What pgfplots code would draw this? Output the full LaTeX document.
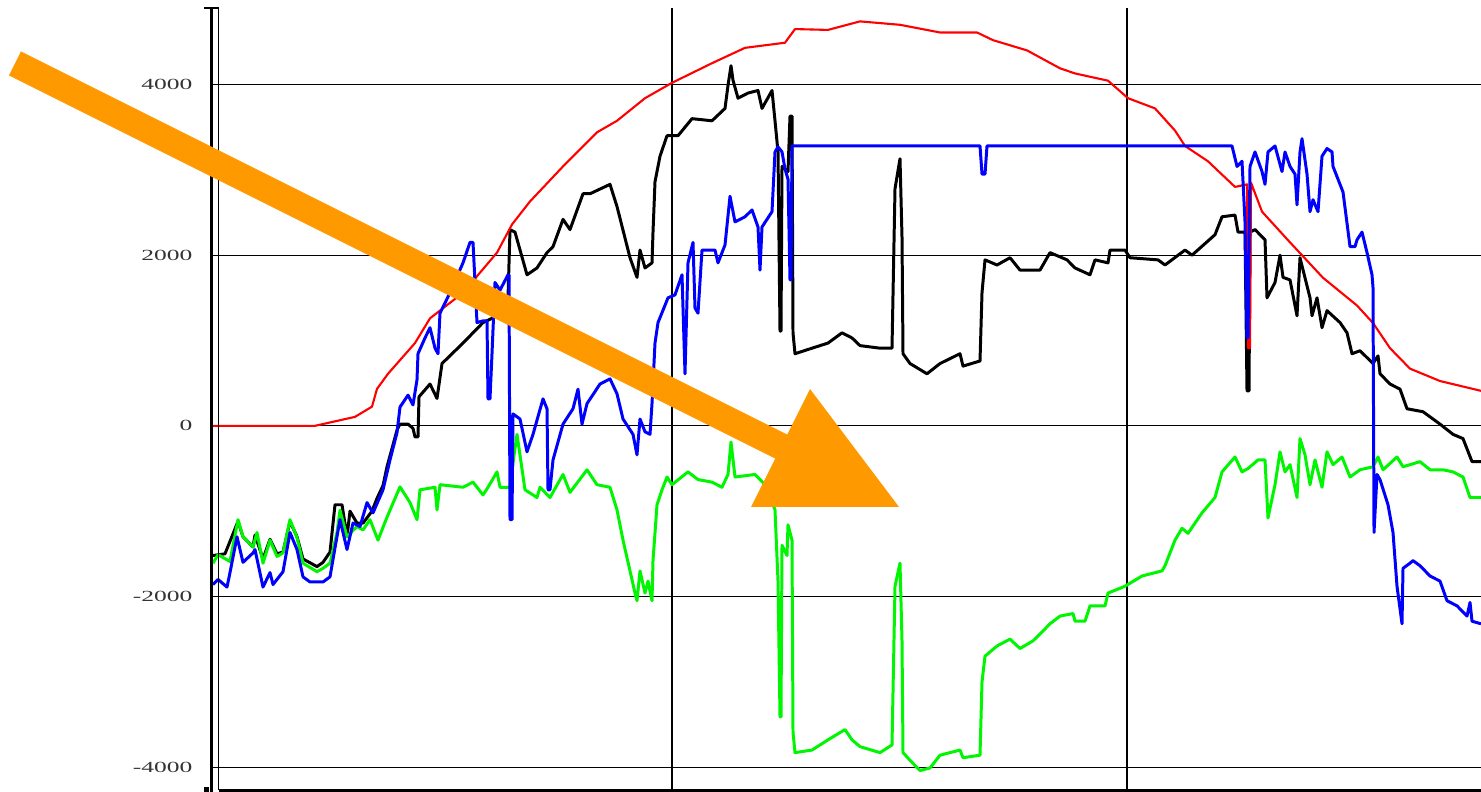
\documentclass[border=0pt]{standalone}
\usepackage{fontspec}
\setmainfont{Liberation Serif}
\usepackage{graphicx}
\usepackage{pgfplots}
\pgfplotsset{compat=1.18}
\definecolor{arroworange}{RGB}{255,153,0}
\definecolor{trgreen}{RGB}{0,245,0}
\newcommand{\tl}[1]{\scalebox{1.65}[1]{#1}}

\begin{document}
\begin{tikzpicture}
\useasboundingbox (0,0) rectangle (148.1mm,79.2mm);
\begin{axis}[
    scale only axis,
    width=127.1mm, height=78.2mm,
    at={(21mm,0.2mm)}, anchor=south west,
    xmin=210, xmax=1481,
    ymin=-4268, ymax=4897,
    axis line style={draw=none},
    major tick length=0pt,
    xtick={672,1127}, xticklabels={},
    ytick={-4000,-2000,0,2000,4000},
    yticklabels={\tl{-4000},\tl{-2000},\tl{0},\tl{2000},\tl{4000}},
    yticklabel style={font=\fontsize{4.4}{5}\selectfont, text=black!80, inner sep=0pt, xshift=-1.7mm},
    grid=major,
    major grid style={black, line width=0.35pt},
    every axis plot/.append style={mark=none, line join=round},
]
% black
\addplot[black, line width=0.85pt] coordinates {
(213,-1520) (225,-1500) (238,-1120) (243,-1300) (253,-1420) (255,-1280) (263,-1560) (270,-1330)
(277,-1500) (283,-1480) (290,-1120) (297,-1300) (303,-1560) (317,-1650) (323,-1600) (330,-1480)
(335,-925) (342,-925) (347,-1300) (350,-1000) (357,-1140) (363,-1140) (372,-1000) (377,-850)
(383,-700) (387,-480) (397,-50) (400,20) (408,20) (413,-30) (415,-130) (418,-130) (419,340)
(430,490) (437,320) (442,730) (463,970) (483,1210) (492,1260) (508,1500) (510,2300) (515,2270)
(527,1770) (537,1850) (547,2030) (553,2100) (563,2420) (570,2300) (583,2720) (590,2720)
(610,2830) (617,2570) (630,1970) (637,1740) (640,2060) (645,1850) (652,1910) (653,2270)
(655,2860) (660,3160) (667,3400) (678,3400) (692,3600) (712,3575) (725,3720) (728,3990)
(731,4220) (733,4050) (738,3840) (748,3900) (758,3930) (762,3720) (772,3930) (775,3575)
(778,3210) (780,1110) (781,1110) (782,3040) (788,2980) (790,3630) (792,3630) (793,1090)
(795,845) (812,910) (828,970) (842,1090) (852,1030) (860,940) (880,910) (892,910) (895,2780)
(900,3130) (902,2210) (903,845) (910,730) (927,610) (940,730) (960,845) (963,700) (980,760)
(982,1560) (985,1945) (997,1885) (1010,1970) (1020,1825) (1040,1825) (1050,2030) (1067,1945)
(1075,1850) (1090,1770) (1095,1945) (1108,1910) (1110,2060) (1125,2060) (1130,1970)
(1158,1945) (1165,1885) (1185,2060) (1192,2000) (1215,2240) (1222,2450) (1235,2470)
(1238,2270) (1245,2270) (1247,410) (1249,410) (1250,2270) (1255,2300) (1265,2180) (1267,1500)
(1275,1680) (1280,2000) (1283,1740) (1290,1710) (1297,1290) (1300,1970) (1310,1500)
(1312,1290) (1317,1500) (1322,1150) (1327,1350) (1340,1210) (1347,1090) (1352,845) (1360,880)
(1373,730) (1378,820) (1380,610) (1390,490) (1400,430) (1407,200) (1423,165) (1440,20)
(1453,-100) (1463,-150) (1472,-420) (1481,-420)
};
% red
\addplot[red, line width=0.6pt] coordinates {
(213,0) (315,0) (355,105) (372,225) (377,433) (388,610) (415,970) (430,1260) (463,1560)
(497,2030) (512,2360) (530,2630) (563,3040) (597,3440) (617,3575) (645,3840) (672,4020)
(712,4250) (745,4430) (785,4490) (795,4650) (828,4640) (860,4740) (900,4700) (940,4610)
(977,4610) (993,4520) (1027,4400) (1060,4190) (1075,4130) (1108,4045) (1128,3840)
(1155,3720) (1175,3460) (1185,3280) (1208,3100) (1235,2800) (1247,2830) (1248,910)
(1250,910) (1251,2850) (1262,2510) (1290,2150) (1323,1735) (1357,1410) (1373,1205)
(1390,910) (1410,670) (1440,525) (1481,410)
};
% green
\addplot[trgreen, line width=0.85pt] coordinates {
(213,-1610) (218,-1510) (230,-1590) (238,-1100) (243,-1300) (253,-1420) (257,-1250)
(263,-1610) (270,-1340) (277,-1530) (283,-1490) (290,-1100) (297,-1310) (303,-1610)
(317,-1710) (323,-1670) (330,-1610) (337,-1250) (340,-990) (347,-1300) (357,-1180)
(363,-1220) (370,-1100) (378,-1340) (387,-1070) (400,-715) (410,-900) (417,-1100) (420,-750)
(435,-720) (437,-985) (440,-690) (463,-720) (473,-660) (483,-810) (488,-720) (497,-540)
(500,-720) (510,-720) (512,-515) (517,-100) (525,-750) (537,-840) (540,-720) (550,-840)
(563,-570) (570,-780) (587,-515) (597,-690) (610,-720) (617,-985) (623,-1340) (630,-1700)
(635,-1960) (637,-2050) (640,-1700) (645,-1960) (648,-1820) (652,-2050) (653,-1580)
(657,-925) (662,-750) (667,-600) (672,-690) (688,-540) (698,-630) (712,-660) (722,-720)
(728,-570) (731,-190) (735,-600) (755,-570) (765,-690) (775,-985) (778,-1820) (780,-3410)
(781,-3410) (782,-1400) (787,-1520) (788,-1160) (792,-1340) (793,-3590) (795,-3830)
(812,-3800) (828,-3680) (845,-3560) (852,-3680) (860,-3760) (880,-3830) (892,-3740)
(895,-1880) (900,-1610) (902,-2520) (903,-3830) (910,-3920) (920,-4040) (930,-4010)
(940,-3860) (960,-3800) (963,-3890) (980,-3860) (982,-3000) (985,-2700) (997,-2580)
(1010,-2500) (1020,-2610) (1033,-2520) (1040,-2440) (1050,-2320) (1060,-2230) (1073,-2200)
(1075,-2290) (1085,-2290) (1090,-2110) (1105,-2110) (1108,-1960) (1125,-1880) (1142,-1760)
(1162,-1700) (1165,-1640) (1175,-1340) (1182,-1200) (1188,-1260) (1202,-1020) (1215,-840)
(1222,-540) (1235,-365) (1242,-540) (1248,-500) (1258,-400) (1265,-400) (1268,-1080)
(1275,-690) (1280,-305) (1285,-540) (1290,-455) (1297,-840) (1300,-150) (1305,-340)
(1310,-690) (1315,-400) (1322,-720) (1327,-305) (1333,-455) (1342,-365) (1350,-600)
(1360,-515) (1373,-480) (1378,-365) (1383,-515) (1397,-365) (1403,-480) (1420,-420)
(1430,-515) (1443,-515) (1453,-540) (1463,-600) (1470,-840) (1481,-840)
};
% blue
\addplot[blue, line width=0.85pt] coordinates {
(213,-1860) (218,-1800) (227,-1890) (230,-1720) (237,-1300) (243,-1600) (253,-1490)
(255,-1450) (263,-1890) (270,-1720) (273,-1860) (283,-1710) (290,-1250) (297,-1450)
(303,-1770) (310,-1830) (323,-1830) (330,-1770) (335,-1430) (340,-1100) (347,-1450)
(353,-1140) (360,-1180) (367,-900) (373,-1020) (383,-750) (390,-400) (397,-80) (400,220)
(408,360) (413,245) (417,540) (418,845) (425,1030) (430,1150) (435,910) (438,845) (440,1320)
(450,1560) (463,1910) (470,2150) (473,2150) (477,1210) (483,1230) (487,1230) (488,316)
(490,316) (492,845) (495,1680) (500,1590) (508,1770) (509,1770) (510,-1100) (512,-1100)
(513,140) (520,80) (527,-305) (533,-100) (543,316) (547,200) (548,-750) (550,-750) (553,-400)
(563,20) (573,200) (578,430) (582,20) (587,260) (600,490) (610,550) (617,375) (623,80)
(633,-100) (637,-340) (640,80) (645,-70) (650,-100) (652,260) (655,970) (658,1210)
(668,1500) (675,1535) (682,1770) (685,610) (688,1910) (693,2150) (695,1380) (698,1320)
(702,2060) (715,2060) (718,1910) (725,2120) (730,2690) (735,2390) (745,2450) (752,2530)
(758,2330) (760,1825) (762,2330) (772,2510) (775,3210) (778,3270) (782,3210) (785,3010)
(788,2890) (790,1710) (791,1710) (792,3280) (980,3280) (982,2950) (985,2950) (987,3280)
(1232,3280) (1237,3040) (1242,3100) (1245,2390) (1247,1030) (1248,1030) (1250,3040)
(1255,3210) (1262,2980) (1265,2830) (1268,3210) (1275,3280) (1282,2980) (1285,3210)
(1290,3040) (1295,2950) (1297,2590) (1300,3210) (1302,3365) (1307,2950) (1310,2510)
(1313,2650) (1318,2510) (1322,3160) (1327,3250) (1332,3210) (1333,3040) (1343,2740)
(1350,2100) (1355,2100) (1357,2180) (1362,2270) (1367,2030) (1372,1770) (1373,1620)
(1374,-1250) (1377,-570) (1380,-630) (1388,-925) (1393,-1250) (1397,-1880) (1402,-2320)
(1403,-1670) (1410,-1610) (1413,-1580) (1420,-1640) (1430,-1760) (1440,-1820) (1447,-2050)
(1457,-2110) (1467,-2230) (1470,-2070) (1472,-2290) (1481,-2320)
};
\end{axis}
% frame pieces and the orange arrow, in pixel units of the picture
\begin{scope}[x=0.1mm, y=-0.1mm, yshift=79.2mm]
\draw[line width=0.3mm] (211,8) -- (211,792);
\draw[line width=0.18mm] (218.5,8) -- (218.5,790);
\draw[line width=0.2mm] (204,8) -- (219,8);
\draw[line width=0.3mm] (219,790.5) -- (1481,790.5);
\fill (204,787) rectangle (209,792);
\fill[arroworange] (21,51.5) -- (9,75.5) -- (824,483) -- (836,459) -- cycle;
\fill[arroworange] (751,507) -- (810,389) -- (899,507) -- cycle;
\end{scope}
\end{tikzpicture}
\end{document}
